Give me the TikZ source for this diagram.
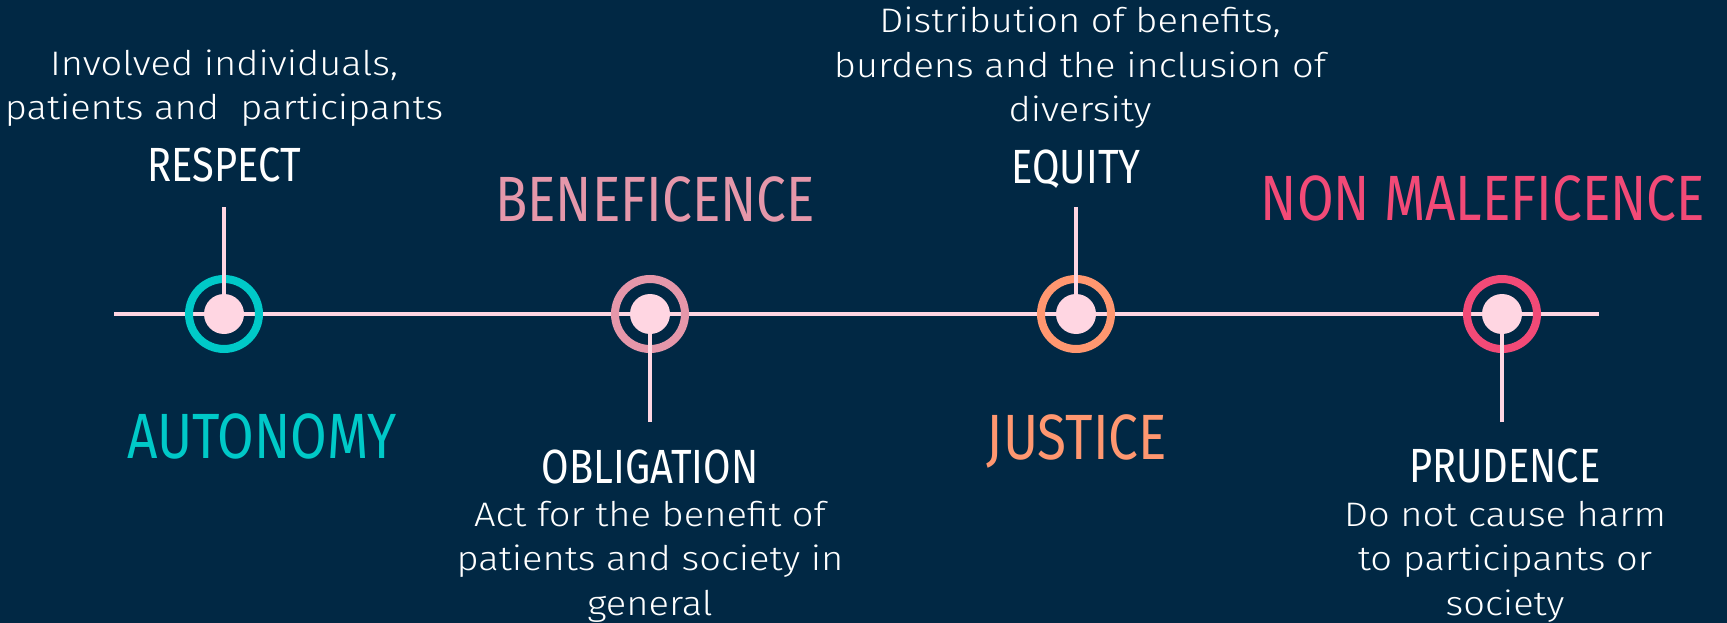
\documentclass[tikz,border=0pt]{standalone}
\usepackage{fontspec}
\setmainfont[FakeStretch=1.12]{Fira Sans Light}
\newfontfamily\headfont[FakeStretch=0.83]{Fira Sans}

\definecolor{navy}{HTML}{012844}
\definecolor{aqua}{HTML}{00C9C8}
\definecolor{rose}{HTML}{E597AA}
\definecolor{peach}{HTML}{FF9770}
\definecolor{crimson}{HTML}{F24A77}
\definecolor{blush}{HTML}{FFD6E2}

\begin{document}
\begin{tikzpicture}[x=1pt, y=-1pt,
  ring node/.style={circle, draw=#1, line width=8pt, minimum size=70pt, inner sep=0pt},
  dot node/.style={circle, fill=blush, minimum size=40pt, inner sep=0pt},
  big title/.style={text=#1, font=\headfont\fontsize{64}{64}\selectfont, anchor=base, inner sep=0pt},
  small title/.style={text=white, font=\headfont\fontsize{48}{48}\selectfont, anchor=base, inner sep=0pt},
  note/.style={text=white, font=\fontsize{34}{44.5}\selectfont, align=center, anchor=base, inner sep=0pt},
  stem/.style={draw=blush, line width=4pt}]

  % background
  \useasboundingbox (0,0) rectangle (1727,623);
  \fill[navy] (0,0) rectangle (1727,623);

  % time line
  \coordinate (start) at (114,314);
  \coordinate (end) at (1599,314);
  \draw[stem] (start) -- (end);

  \coordinate (t1) at (224,207);
  \coordinate (t2) at (650,422);
  \coordinate (t3) at (1076,207);
  \coordinate (t4) at (1502,422);

  \node[ring node=aqua] (r1) at (224,314) {};
  \node[ring node=rose] (r2) at (650,314) {};
  \node[ring node=peach] (r3) at (1076,314) {};
  \node[ring node=crimson] (r4) at (1502,314) {};

  \path[]
  (t1) [stem] edge node [] {} (r1.center)
  (t2) [stem] edge node [] {} (r2.center)
  (t3) [stem] edge node [] {} (r3.center)
  (t4) [stem] edge node [] {} (r4.center);

  \node[dot node] (d1) at (r1) {};
  \node[dot node] (d2) at (r2) {};
  \node[dot node] (d3) at (r3) {};
  \node[dot node] (d4) at (r4) {};

  % labels (base = last line)
  \node[note] (n1) at (224,120) {Involved individuals,\\patients and \ participants};
  \node[small title] (k1) at (224,182) {RESPECT};
  \node[big title=aqua] (p1) at (262,458) {AUTONOMY};

  \node[big title=rose] (p2) at (655,221) {BENEFICENCE};
  \node[small title] (k2) at (650,483) {OBLIGATION};
  \node[note] (n2) at (650,615) {Act for the benefit of\\patients and society in\\general};

  \node[note] (n3) at (1080,122) {Distribution of benefits,\\burdens and the inclusion of\\diversity};
  \node[small title] (k3) at (1076,183) {EQUITY};
  \node[big title=peach] (p3) at (1077,459) {JUSTICE};

  \node[big title=crimson] (p4) at (1483,220) {NON MALEFICENCE};
  \node[small title] (k4) at (1505,482) {PRUDENCE};
  \node[note] (n4) at (1505,615) {Do not cause harm\\to participants or\\society};
\end{tikzpicture}
\end{document}
